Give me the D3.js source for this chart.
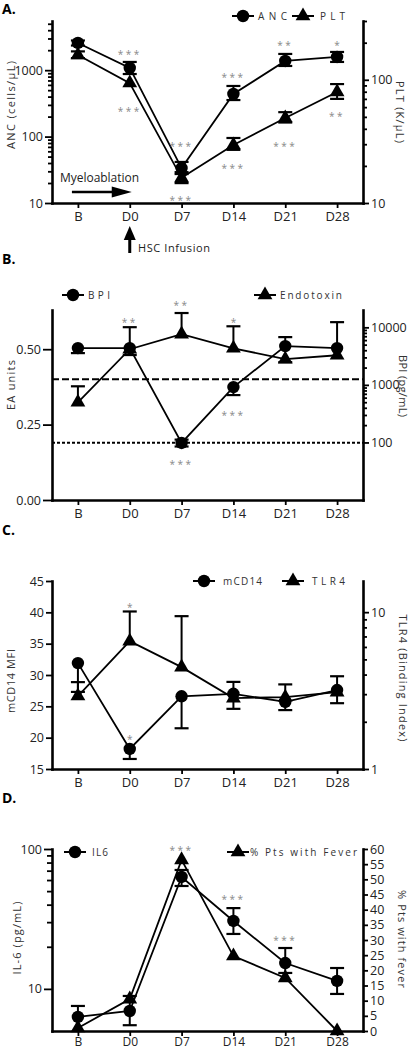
<!DOCTYPE html>
<html><head><meta charset="utf-8">
<script src="https://cdn.jsdelivr.net/npm/d3@7"></script>
<style>body{margin:0;background:#fff} svg text{font-family:"Open Sans",sans-serif}</style>
</head><body><svg id="c" width="411" height="1050"></svg>
<script>
const categories = ["B","D0","D7","D14","D21","D28"];
// Panel A
const ancMean = [2570,1080,33.6,438,1377,1582];
const ancLow  = [2350,875,27.3,355,1157,1330];
const ancHigh = [2800,1330,41.5,578,1755,1880];
const pltMean = [159,94,16,29.6,49,79.6];
const pltLow  = [150,null,14.5,27,45,70];
const pltHigh = [170,null,17.8,33.7,54.6,92.3];
const ancTicks = [10,100,1000];
const ancMinor = [20,30,40,50,60,70,80,90,200,300,400,500,600,700,800,900,2000,3000,4000,5000];
const pltTicks = [10,100];
const pltMinor = [20,30,40,50,60,70,80,90,200,300];
const starsA = [["D0","L",1880,"***"],["D14","L",847,"***"],["D21","L",2570,"**"],["D28","L",2570,"*"],["D7","L",77,"***"],
                ["D0","R",58,"***"],["D7","R",11,"***"],["D14","R",20,"***"],["D21","R",30,"***"],["D28","R",52.7,"**"]];
// Panel B
const eaMean = [0.324,0.50,0.55,0.503,0.467,0.48];
const eaLow  = [null,null,null,null,0.457,null];
const eaHigh = [0.377,0.573,0.62,0.576,null,null];
const bpiMean = [4355,4355,98,916,4720,4355];
const bpiLow  = [3565,3300,85,665,null,null];
const bpiHigh = [null,null,112,null,6760,12300];
const eaTicks = [0,0.25,0.5];
const bpiTicks = [100,1000,10000];
const bpiMinor = [200,300,400,500,600,700,800,900,2000,3000,4000,5000,6000,7000,8000,9000];
const eaDashed = 0.40, eaDotted = 0.19;
const starsB = [["D0","L",0.596,"**"],["D7","L",0.652,"**"],["D14","L",0.596,"*"],["D7","R",45.7,"***"],["D14","R",324,"***"]];
// Panel C
const cd14Mean = [31.9,18.2,26.6,27.0,25.7,27.6];
const cd14Low  = [27.3,16.6,21.5,24.6,24.4,25.5];
const cd14High = [null,null,null,28.9,28.5,29.8];
const tlr4Mean = [2.92,6.53,4.46,2.83,2.87,3.09];
const tlr4Low  = [null,null,null,null,null,null];
const tlr4High = [3.58,10.1,9.43,null,null,null];
const cd14Ticks = [15,20,25,30,35,40,45];
const tlr4Ticks = [1,10];
const tlr4Minor = [2,3,4,5,6,7,8,9];
const starsC = [["D0","R",11.1,"*"],["D0","L",20.1,"*"]];
// Panel D
const il6Mean = [6.3,6.95,63.1,30.6,15.3,11.4];
const il6Low  = [null,5.5,54.4,24.7,13.0,9.2];
const il6High = [7.55,8.9,70.8,37.8,19.6,14.1];
const feverPct = [1,10.5,56.4,24.7,17.5,0];
const il6Ticks = [10,100];
const il6Minor = [20,30,40,50,60,70,80,90];
const feverTicks = [0,5,10,15,20,25,30,35,40,45,50,55,60];
const starsD = [["D7","L",101.6,"***"],["D14","L",45.4,"***"],["D21","L",23.1,"***"]];

const svg = d3.select("#c");
const X0 = 52, X1 = 363;
const x = d3.scalePoint().domain(categories).range([X0, X1]).padding(0.5);

function yAxis(side, scale, major, minor, fmt, majorLen, minorLen) {
  const mk = side === "L" ? d3.axisLeft : d3.axisRight;
  const g = svg.append("g").attr("transform", `translate(${side === "L" ? X0 : X1},0)`);
  if (minor.length) {
    const gm = g.append("g").call(mk(scale).tickValues(minor).tickSize(minorLen).tickFormat(""));
    gm.select(".domain").remove();
    gm.selectAll(".tick line").attr("stroke", "#000").attr("stroke-width", 1.8);
  }
  const ga = g.append("g").call(mk(scale).tickValues(major).tickFormat(fmt).tickSize(majorLen).tickSizeOuter(0).tickPadding(2));
  ga.select(".domain").attr("stroke", "#000").attr("stroke-width", 2.6).attr("stroke-linecap", "square");
  ga.selectAll(".tick line").attr("stroke", "#000").attr("stroke-width", 1.8);
  ga.selectAll(".tick text").attr("font-size", 12.5).attr("fill", "#222").attr("font-family", "Open Sans");
}
function xAxis(yb, pad) {
  const g = svg.append("g").attr("transform", `translate(0,${yb})`)
    .call(d3.axisBottom(x).tickSize(5).tickSizeOuter(0).tickPadding(pad));
  g.select(".domain").attr("stroke", "#000").attr("stroke-width", 2.6).attr("stroke-linecap", "square");
  g.selectAll(".tick line").attr("stroke", "#000").attr("stroke-width", 1.8);
  g.selectAll(".tick text").attr("font-size", 13).attr("fill", "#222").attr("font-family", "Open Sans");
  return g;
}
function series(scale, mean, low, high, shape) {
  const line = d3.line().x((d, i) => x(categories[i])).y(d => scale(d));
  svg.append("path").datum(mean).attr("d", line).attr("fill", "none").attr("stroke", "#000").attr("stroke-width", 1.8);
  return () => {
    mean.forEach((m, i) => {
      const cx = x(categories[i]);
      const lo = low[i], hi = high[i];
      if (lo != null || hi != null) {
        const y1 = scale(lo != null ? lo : m), y2 = scale(hi != null ? hi : m);
        svg.append("line").attr("x1", cx).attr("x2", cx).attr("y1", y1).attr("y2", y2).attr("stroke", "#000").attr("stroke-width", 2);
        [lo, hi].forEach(v => { if (v != null) svg.append("line").attr("x1", cx - 7).attr("x2", cx + 7).attr("y1", scale(v)).attr("y2", scale(v)).attr("stroke", "#000").attr("stroke-width", 2.2); });
      }
    });
    mean.forEach((m, i) => {
      const cx = x(categories[i]), cy = scale(m);
      if (shape === "c") svg.append("circle").attr("cx", cx).attr("cy", cy).attr("r", 6.2).attr("fill", "#000");
      else svg.append("path").attr("d", d3.symbol(d3.symbolTriangle, 95)()).attr("transform", `translate(${cx},${cy})`).attr("fill", "#000");
    });
  };
}
function legend(cx, cy, shape, label, tx, tlen) {
  svg.append("line").attr("x1", cx - 11).attr("x2", cx + 11).attr("y1", cy).attr("y2", cy).attr("stroke", "#000").attr("stroke-width", 2);
  if (shape === "c") svg.append("circle").attr("cx", cx).attr("cy", cy).attr("r", 6.2).attr("fill", "#000");
  else svg.append("path").attr("d", d3.symbol(d3.symbolTriangle, 95)()).attr("transform", `translate(${cx},${cy})`).attr("fill", "#000");
  svg.append("text").attr("x", tx).attr("y", cy + 3.6).attr("font-size", 10).attr("fill", "#333")
    .attr("textLength", tlen).attr("lengthAdjust", "spacing").text(label);
}
function title(side, xb, yc, label, len) {
  svg.append("text").attr("transform", `translate(${xb},${yc}) rotate(${side === "L" ? -90 : 90})`)
    .attr("text-anchor", "middle").attr("font-size", 11).attr("fill", "#333")
    .attr("textLength", len).attr("lengthAdjust", "spacing").text(label);
}
function stars(list, yL, yR) {
  list.forEach(([c, ax, v, t]) => {
    const yc = (ax === "L" ? yL : yR)(v);
    svg.append("text").attr("x", x(c)).attr("y", yc + 6).attr("text-anchor", "middle")
      .attr("font-size", 10).attr("fill", "#888").attr("letter-spacing", t.length > 1 ? 2.5 : 0).text(t);
  });
}
function panelLabel(t, y) {
  svg.append("text").attr("x", 2).attr("y", y).attr("font-size", 14).attr("font-weight", "bold").attr("fill", "#000").text(t);
}

// ---------- Panel A ----------
panelLabel("A.", 14);
const yA_L = d3.scaleLog().domain([10, 5500]).range([203, 21]);
const yA_R = d3.scaleLog().domain([10, 300]).range([203, 21]);
yAxis("L", yA_L, ancTicks, ancMinor, d3.format("d"), 7, 4);
yAxis("R", yA_R, pltTicks, pltMinor, d3.format("d"), 6, 4);
xAxis(203, 4);
const dA1 = series(yA_L, ancMean, ancLow, ancHigh, "c");
const dA2 = series(yA_R, pltMean, pltLow, pltHigh, "t");
dA1(); dA2();
stars(starsA, yA_L, yA_R);
legend(243, 16, "c", "ANC", 258, 29);
legend(303, 16, "t", "PLT", 320, 25);
title("L", 15, 105, "ANC (cells/\u00b5L)", 88);
title("R", 396, 112, "PLT (K/\u00b5L)", 62);
// Myeloablation arrow
svg.append("text").attr("x", 60).attr("y", 182).attr("font-size", 12).attr("fill", "#222")
  .attr("textLength", 79).attr("lengthAdjust", "spacing").text("Myeloablation");
svg.append("line").attr("x1", x("B") - 6).attr("x2", x("D0") - 16).attr("y1", 192).attr("y2", 192).attr("stroke", "#000").attr("stroke-width", 2.6);
svg.append("path").attr("d", `M${x("D0") + 2},192 L${x("D0") - 18},186.5 L${x("D0") - 18},197.5 Z`).attr("fill", "#000");
// HSC Infusion arrow
svg.append("line").attr("x1", x("D0")).attr("x2", x("D0")).attr("y1", 253).attr("y2", 238).attr("stroke", "#000").attr("stroke-width", 3);
svg.append("path").attr("d", `M${x("D0")},226 L${x("D0") - 6},240 L${x("D0") + 6},240 Z`).attr("fill", "#000");
svg.append("text").attr("x", 138).attr("y", 252).attr("font-size", 11).attr("fill", "#222")
  .attr("textLength", 72).attr("lengthAdjust", "spacing").text("HSC Infusion");

// ---------- Panel B ----------
panelLabel("B.", 264);
const yB_L = d3.scaleLinear().domain([0, 0.63]).range([500, 310]);
const yB_R = d3.scaleLog().domain([10, 20000]).range([500, 310]);
svg.append("line").attr("x1", X0).attr("x2", X1).attr("y1", yB_L(eaDashed)).attr("y2", yB_L(eaDashed))
  .attr("stroke", "#000").attr("stroke-width", 2).attr("stroke-dasharray", "7,3");
svg.append("line").attr("x1", X0).attr("x2", X1).attr("y1", yB_L(eaDotted)).attr("y2", yB_L(eaDotted))
  .attr("stroke", "#000").attr("stroke-width", 2).attr("stroke-dasharray", "3,2");
yAxis("L", yB_L, eaTicks, [], d3.format(".2f"), 9, 4);
yAxis("R", yB_R, bpiTicks, bpiMinor, d3.format("d"), 6, 4);
xAxis(500, 4);
const dB1 = series(yB_R, bpiMean, bpiLow, bpiHigh, "c");
const dB2 = series(yB_L, eaMean, eaLow, eaHigh, "t");
dB2(); dB1();
stars(starsB, yB_L, yB_R);
legend(73, 295, "c", "BPI", 88, 22);
legend(265, 295, "t", "Endotoxin", 280, 62);
title("L", 15, 385, "EA units", 50);
title("R", 399, 386, "BPI (pg/mL)", 62);

// ---------- Panel C ----------
panelLabel("C.", 535);
const yC_L = d3.scaleLinear().domain([15, 45]).range([769, 581]);
const yC_R = d3.scaleLog().domain([1, 15.8]).range([769, 581]);
yAxis("L", yC_L, cd14Ticks, [], d3.format("d"), 6, 4);
yAxis("R", yC_R, tlr4Ticks, tlr4Minor, d3.format("d"), 6, 4);
xAxis(769, 4);
const dC1 = series(yC_L, cd14Mean, cd14Low, cd14High, "c");
const dC2 = series(yC_R, tlr4Mean, tlr4Low, tlr4High, "t");
dC2(); dC1();
stars(starsC, yC_L, yC_R);
legend(204, 581, "c", "mCD14", 223, 39);
legend(293, 581, "t", "TLR4", 312, 33);
title("L", 15, 681, "mCD14 MFI", 64);
title("R", 399, 678, "TLR4 (Binding Index)", 127);

// ---------- Panel D ----------
panelLabel("D.", 803);
const yD_L = d3.scaleLog().domain([5, 100]).range([1031, 849]);
const yD_R = d3.scaleLinear().domain([0, 60]).range([1031, 849]);
yAxis("L", yD_L, il6Ticks, il6Minor, d3.format("d"), 8, 5);
yAxis("R", yD_R, feverTicks, [], d3.format("d"), 5, 4);
const gxD = xAxis(1031, 1);
gxD.selectAll(".tick text").attr("font-size", 12);
const dD1 = series(yD_L, il6Mean, il6Low, il6High, "c");
const dD2 = series(yD_R, feverPct, feverPct.map(() => null), feverPct.map(() => null), "t");
dD1(); dD2();
stars(starsD, yD_L, yD_R);
legend(75, 852, "c", "IL6", 92, 16);
legend(238, 852, "t", "% Pts with Fever", 250, 107);
title("L", 21, 938, "IL-6 (pg/mL)", 73);
title("R", 398, 939, "% Pts with fever", 98);
</script></body></html>
